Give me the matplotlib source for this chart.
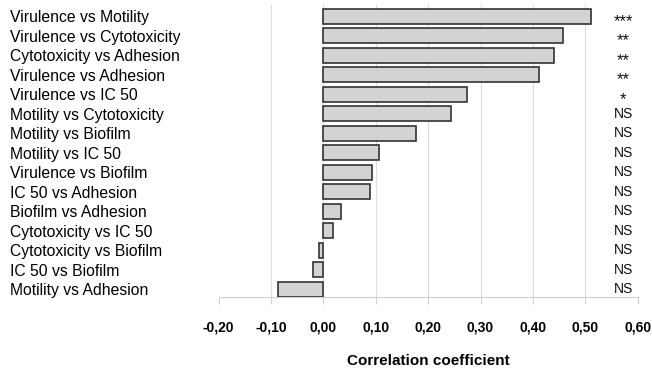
import matplotlib
matplotlib.use("Agg")
import matplotlib.pyplot as plt

categories = [
    "Virulence vs Motility", "Virulence vs Cytotoxicity", "Cytotoxicity vs Adhesion",
    "Virulence vs Adhesion", "Virulence vs IC 50", "Motility vs Cytotoxicity",
    "Motility vs Biofilm", "Motility vs IC 50", "Virulence vs Biofilm",
    "IC 50 vs Adhesion", "Biofilm vs Adhesion", "Cytotoxicity vs IC 50",
    "Cytotoxicity vs Biofilm", "IC 50 vs Biofilm", "Motility vs Adhesion",
]
values = [0.510, 0.458, 0.440, 0.411, 0.274, 0.243, 0.176, 0.106, 0.093,
          0.089, 0.034, 0.019, -0.008, -0.019, -0.086]
significance = ["***", "**", "**", "**", "*", "NS", "NS", "NS", "NS", "NS",
                "NS", "NS", "NS", "NS", "NS"]
xticks = [-0.2, -0.1, 0.0, 0.1, 0.2, 0.3, 0.4, 0.5, 0.6]
xtick_labels = ["-0,20", "-0,10", "0,00", "0,10", "0,20", "0,30", "0,40", "0,50", "0,60"]

fig = plt.figure(figsize=(6.52, 3.73), dpi=100)
ax = fig.add_axes([218.5 / 652, 1 - 297 / 373, (637.7 - 218.5) / 652, 292 / 373])

y = list(range(len(categories)))
ax.barh(y, values, height=0.77, color="#d3d3d3", edgecolor="#333333", linewidth=1.2, zorder=3)

ax.set_xlim(-0.2, 0.6)
ax.set_ylim(14.41, -0.59)

for gx in xticks[1:-1]:
    ax.axvline(gx, color="#dcdcdc", linewidth=0.8, zorder=1)

for s in ["top", "right", "left"]:
    ax.spines[s].set_visible(False)
ax.spines["bottom"].set_color("#d0d0d0")
ax.spines["bottom"].set_linewidth(0.8)

ax.set_xticks(xticks)
ax.set_xticklabels(xtick_labels, fontfamily="Liberation Sans", fontweight="bold", fontsize=10)
ax.tick_params(axis="x", length=5, color="#d0d0d0", width=0.8, pad=12)

ax.set_yticks(y)
ax.set_yticklabels(categories, fontfamily="Liberation Sans", fontsize=11.3)
ax.tick_params(axis="y", length=0, pad=150)
for lab in ax.get_yticklabels():
    lab.set_horizontalalignment("left")

for yi, s in zip(y, significance):
    if "*" in s:
        ax.text(0.572, yi + 0.25, s, ha="center", va="center",
                fontsize=12, fontfamily="Liberation Sans", color="#111111")
    else:
        ax.text(0.572, yi, s, ha="center", va="center",
                fontsize=10, fontfamily="Liberation Sans", color="#111111")

ax.set_xlabel("Correlation coefficient", fontfamily="Liberation Sans",
              fontweight="bold", fontsize=11, labelpad=14)

fig.savefig("out.png", dpi=100)
